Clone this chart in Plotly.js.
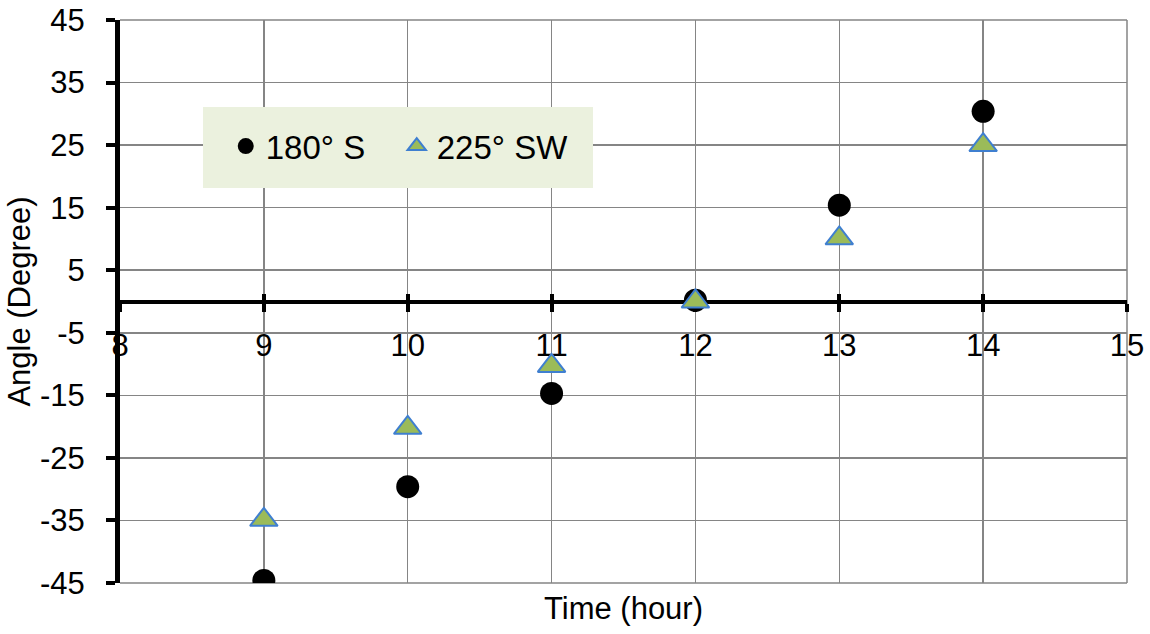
<!DOCTYPE html>
<html>
<head>
<meta charset="utf-8">
<script src="https://cdn.plot.ly/plotly-3.0.1.min.js"></script>
<style>html,body{margin:0;padding:0;background:#fff;}#chart{width:1150px;height:634px;}</style>
</head>
<body>
<div id="chart"></div>
<script>
// Data
var hours = [9, 10, 11, 12, 13, 14];
var angleSouth = [-44.6, -29.6, -14.7, 0.2, 15.4, 30.4];      // 180° S
var angleSouthWest = [-34.9, -20.2, -10.3, 0.0, 10.1, 25.0];  // 225° SW
var seriesNames = ['180° S', '225° SW'];
var xTickVals = [8, 9, 10, 11, 12, 13, 14, 15];
var yTickVals = [-45, -35, -25, -15, -5, 5, 15, 25, 35, 45];

var FONT = 'Liberation Sans, Arial, sans-serif';
var gridColor = '#858585';

var traces = [
  {
    x: hours, y: angleSouth, name: seriesNames[0], type: 'scatter', mode: 'markers',
    marker: {symbol: 'circle', size: 23, color: '#000000'}
  },
  {
    x: hours, y: angleSouthWest, name: seriesNames[1], type: 'scatter', mode: 'markers',
    marker: {symbol: 'triangle-up', size: 24, color: '#9BBB59', line: {color: '#3F7FD0', width: 2}}
  },
  {x: [], y: [], xaxis: 'x2', yaxis: 'y', showlegend: false, hoverinfo: 'skip', type: 'scatter', mode: 'markers'}
];

var edgeGrid = {color: gridColor, width: 1.5};

var layout = {
  width: 1150, height: 634,
  margin: {l: 120, r: 23, t: 20, b: 51},
  paper_bgcolor: '#ffffff', plot_bgcolor: '#ffffff',
  font: {family: FONT, color: '#000000', size: 30},
  showlegend: true,
  legend: {
    orientation: 'h', x: 0.105, y: 0.776, xanchor: 'left', yanchor: 'middle',
    bgcolor: 'rgba(0,0,0,0)', borderwidth: 0,
    font: {family: FONT, size: 33, color: '#000000'},
    entrywidth: 126, entrywidthmode: 'pixels'
  },
  xaxis: {
    range: [8, 15], tickvals: xTickVals, ticktext: xTickVals.map(String),
    anchor: 'free', position: 0.5, layer: 'below traces',
    showgrid: true, gridcolor: gridColor, gridwidth: 1.5,
    zeroline: false,
    showline: true, linecolor: '#000000', linewidth: 4,
    ticks: 'outside', ticklen: 8, tickwidth: 4, tickcolor: '#000000',
    ticklabelstandoff: 7,
    tickfont: {family: FONT, size: 31, color: '#000000'},
    title: {text: 'Time (hour)', font: {family: FONT, size: 31, color: '#000000'}, standoff: 235}
  },
  xaxis2: {
    range: [8, 15], tickvals: xTickVals, overlaying: 'x',
    anchor: 'free', position: 0.5, layer: 'below traces',
    showgrid: false, zeroline: false, showline: false,
    ticks: 'inside', ticklen: 8, tickwidth: 4, tickcolor: '#000000',
    showticklabels: false
  },
  yaxis: {
    range: [-45, 45], tickvals: yTickVals, ticktext: yTickVals.map(String),
    layer: 'below traces',
    showgrid: true, gridcolor: gridColor, gridwidth: 1.5,
    zeroline: false,
    showline: true, linecolor: '#000000', linewidth: 5,
    ticks: 'outside', ticklen: 9, tickwidth: 4, tickcolor: '#000000',
    ticklabelstandoff: 15,
    tickfont: {family: FONT, size: 31, color: '#000000'},
    title: {text: 'Angle (Degree)', font: {family: FONT, size: 31, color: '#000000'}, standoff: 2}
  },
  shapes: [
    {type: 'line', xref: 'paper', yref: 'paper', x0: 1, x1: 1, y0: 0, y1: 1, line: edgeGrid, layer: 'below'},
    {type: 'line', xref: 'paper', yref: 'paper', x0: 0, x1: 1, y0: 1, y1: 1, line: edgeGrid, layer: 'below'},
    {type: 'line', xref: 'paper', yref: 'paper', x0: 0, x1: 1, y0: 0, y1: 0, line: edgeGrid, layer: 'below'},
    {type: 'rect', xref: 'paper', yref: 'paper', x0: 0.0824, x1: 0.4697, y0: 0.7016, y1: 0.8455,
     fillcolor: '#EBF1DE', line: {width: 0}, layer: 'above'}
  ]
};

Plotly.newPlot('chart', traces, layout, {displayModeBar: false, staticPlot: true});
</script>
</body>
</html>
